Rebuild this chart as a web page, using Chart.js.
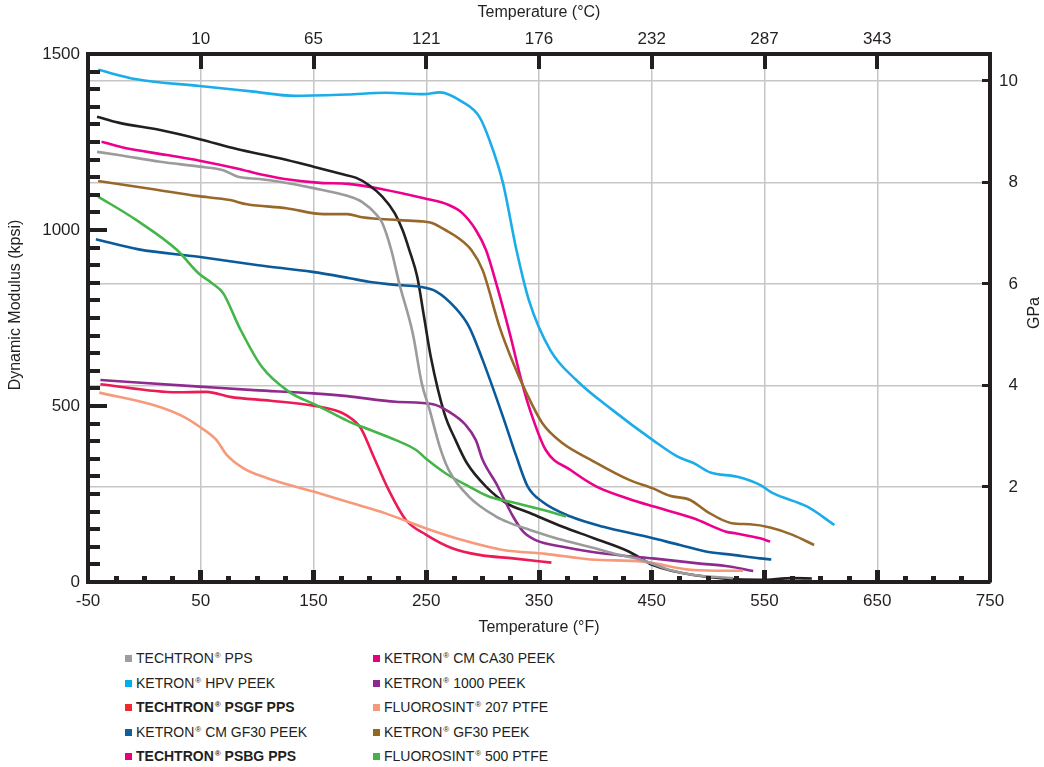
<!DOCTYPE html>
<html>
<head>
<meta charset="utf-8">
<script src="https://cdn.jsdelivr.net/npm/chart.js@4.4.1/dist/chart.umd.min.js"></script>
<style>
  body { margin: 0; background: #fff; font-family: "Liberation Sans", Arial, Helvetica, sans-serif; }
  #wrap { position: relative; width: 1044px; height: 767px; overflow: hidden; }
  #chart { position: absolute; left: 0; top: 0; }
  .legend { position: absolute; top: 646px; font-size: 14px; color: #231f20; }
  .legend div { height: 24.5px; line-height: 24.5px; white-space: nowrap; }
  .legend i { display: inline-block; width: 7px; height: 7px; margin-right: 4px; vertical-align: 1px; }
  .legend b { font-weight: bold; }
  .legend sup { font-size: 8px; line-height: 0; vertical-align: 5px; margin-left: 1px; }
</style>
</head>
<body>
<div id="wrap">
  <canvas id="chart" width="1044" height="640"></canvas>
  <div class="legend" id="legendLeft" style="left:125px"></div>
  <div class="legend" id="legendRight" style="left:373px"></div>
</div>
<script>
// temperatures in °F, modulus in kpsi
const techtronPpsF = [-42, -23, 14, 49, 70, 83, 102, 120, 150, 180, 193, 206, 211, 219, 226, 238, 246, 253, 262, 270, 288, 312, 324, 342, 371, 398, 420, 442, 466, 487, 522];
const techtronPpsK = [1222, 1213, 1194, 1180, 1170, 1151, 1145, 1137, 1119, 1097, 1080, 1043, 1020, 943, 849, 707, 565, 489, 384, 318, 242, 186, 168, 148, 119, 97, 78, 62, 34, 20, 11];

const hpvPeekF = [-41, -7, 49, 97, 133, 180, 214, 248, 262, 282, 297, 306, 318, 330, 341, 360, 383, 415, 451, 473, 487, 502, 526, 546, 557, 588, 612];
const hpvPeekK = [1455, 1428, 1409, 1393, 1381, 1385, 1390, 1386, 1391, 1364, 1322, 1256, 1134, 943, 801, 659, 574, 489, 403, 356, 338, 311, 299, 276, 253, 214, 162];

const psgfPpsF = [-39, 29, 55, 76, 112, 150, 168, 179, 192, 202, 216, 232, 250, 273, 297, 327, 361];
const psgfPpsK = [562, 539, 540, 526, 515, 501, 489, 474, 437, 366, 266, 176, 134, 96, 77, 67, 55];

const cmGf30PeekF = [-43, -5, 48, 101, 149, 182, 199, 223, 244, 259, 276, 288, 300, 318, 330, 340, 353, 378, 407, 445, 475, 499, 522, 546, 556];
const cmGf30PeekK = [974, 945, 924, 900, 881, 863, 853, 844, 839, 825, 778, 725, 631, 470, 356, 271, 228, 186, 157, 129, 105, 86, 77, 67, 64];

const psbgPpsF = [-42, -23, 14, 49, 82, 120, 150, 175, 188, 199, 211, 222, 229, 235, 242, 248, 254, 266, 276, 286, 303, 321, 342, 371, 398, 430, 440, 451, 487, 546, 575, 592];
const psbgPpsK = [1322, 1305, 1284, 1258, 1230, 1204, 1180, 1159, 1148, 1128, 1095, 1048, 1000, 943, 867, 754, 640, 480, 403, 338, 271, 224, 196, 157, 125, 86, 68, 48, 20, 6, 11, 10];

const cmCa30PeekF = [-38, -20, 20, 49, 82, 106, 126, 156, 181, 211, 248, 270, 282, 294, 303, 312, 324, 335, 342, 356, 378, 401, 430, 451, 487, 516, 525, 546, 555];
const cmCa30PeekK = [1251, 1235, 1213, 1197, 1175, 1156, 1144, 1134, 1131, 1116, 1090, 1071, 1048, 1000, 943, 849, 707, 565, 489, 375, 318, 271, 236, 215, 181, 143, 138, 124, 115];

const ketron1000F = [-39, 49, 97, 150, 180, 223, 256, 270, 285, 294, 300, 312, 318, 327, 336, 347, 371, 396, 427, 451, 491, 519, 540];
const ketron1000K = [574, 555, 545, 536, 528, 512, 505, 484, 446, 403, 347, 280, 242, 186, 143, 119, 100, 86, 74, 67, 53, 44, 31];

const fluoro207F = [-40, 8, 32, 49, 64, 73, 88, 109, 150, 180, 214, 250, 282, 318, 356, 396, 442, 487, 516, 531];
const fluoro207K = [538, 503, 474, 441, 403, 361, 323, 295, 257, 228, 195, 152, 119, 91, 80, 64, 58, 34, 32, 32];

const gf30PeekF = [-41, 8, 46, 76, 91, 126, 159, 180, 193, 226, 248, 255, 267, 279, 290, 300, 315, 326, 339, 353, 371, 396, 430, 451, 466, 484, 499, 521, 537, 555, 575, 594];
const gf30PeekK = [1139, 1116, 1097, 1085, 1073, 1062, 1045, 1045, 1036, 1028, 1024, 1020, 1000, 976, 943, 886, 725, 631, 536, 451, 394, 347, 290, 266, 245, 233, 200, 167, 164, 155, 134, 105];

const fluoro500F = [-41, -7, 29, 48, 60, 70, 84, 104, 128, 152, 164, 182, 193, 223, 241, 251, 267, 288, 306, 330, 353, 374];
const fluoro500K = [1095, 1028, 943, 877, 849, 820, 725, 612, 541, 503, 484, 455, 441, 403, 375, 347, 309, 271, 242, 224, 205, 186];

// axis ticks
const fahrenheitTicks = [-50, 50, 150, 250, 350, 450, 550, 650, 750];
const celsiusTickPos = [50, 150, 250, 350, 450, 550, 650];
const celsiusLabels = ['10', '65', '121', '176', '232', '287', '343'];
const kpsiTicks = [0, 500, 1000, 1500];
const gpaTicks = [2, 4, 6, 8, 10];

// legend
const legendLeftNames = ['TECHTRON® PPS', 'KETRON® HPV PEEK', 'TECHTRON® PSGF PPS', 'KETRON® CM GF30 PEEK', 'TECHTRON® PSBG PPS'];
const legendLeftColors = ['#9d9ea0', '#00aeef', '#ee2a30', '#0f5f9f', '#e6007e'];
const legendLeftBold = [false, false, true, false, true];
const legendRightNames = ['KETRON® CM CA30 PEEK', 'KETRON® 1000 PEEK', 'FLUOROSINT® 207 PTFE', 'KETRON® GF30 PEEK', 'FLUOROSINT® 500 PTFE'];
const legendRightColors = ['#e6007e', '#8e278f', '#f5997b', '#93681f', '#3fb549'];

const ink = '#231f20';
Chart.defaults.font.family = '"Liberation Sans", Arial, Helvetica, sans-serif';
Chart.defaults.color = ink;

function toPoints(fs, ks) {
    return fs.map((f, i) => ({ x: f, y: ks[i] }));
}

function series(label, fs, ks, color) {
    return {
        label: label,
        data: toPoints(fs, ks),
        borderColor: color,
        borderWidth: 2.6,
        pointRadius: 0,
        fill: false,
        cubicInterpolationMode: 'monotone'
    };
}

function fillLegend(el, names, colors, bold) {
    el.innerHTML = names.map((n, i) => {
        const text = n.replace('®', '<sup>®</sup>');
        const body = bold && bold[i] ? `<b>${text}</b>` : text;
        return `<div><i style="background:${colors[i]}"></i>${body}</div>`;
    }).join('');
}

fillLegend(document.getElementById('legendLeft'), legendLeftNames, legendLeftColors, legendLeftBold);
fillLegend(document.getElementById('legendRight'), legendRightNames, legendRightColors, null);

// inward tick marks and the rotated side titles
const frameTicks = {
    id: 'frameTicks',
    afterDraw(chart) {
        const { ctx, chartArea: a, scales } = chart;
        ctx.save();
        ctx.fillStyle = ink;
        // bottom: every 25 °F
        for (let v = -25; v < 750; v += 25) {
            const px = scales.x.getPixelForValue(v);
            const major = (v - 50) % 100 === 0;
            const h = major ? 12 : 6;
            ctx.fillRect(Math.round(px - 2.5), a.bottom - h, 5, h);
        }
        // left: every 50 kpsi
        for (let v = 50; v < 1500; v += 50) {
            const py = scales.y.getPixelForValue(v);
            const w = v % 500 === 0 ? 19 : 12;
            ctx.fillRect(a.left, Math.round(py - 2), w, 4);
        }
        // top: °C ticks
        celsiusTickPos.forEach(v => {
            const px = scales.xTop.getPixelForValue(v);
            ctx.fillRect(Math.round(px - 2), a.top, 4, 15);
        });
        // right: GPa ticks
        gpaTicks.forEach(v => {
            const py = scales.y2.getPixelForValue(v);
            ctx.fillRect(a.right - 8, Math.round(py - 1.5), 8, 3);
        });
        ctx.font = '16px "Liberation Sans", Arial, sans-serif';
        ctx.textAlign = 'center';
        ctx.textBaseline = 'middle';
        ctx.translate(16, 305);
        ctx.rotate(-Math.PI / 2);
        ctx.fillText('Dynamic Modulus (kpsi)', 0, 0);
        ctx.setTransform(1, 0, 0, 1, 0, 0);
        ctx.translate(1035, 313);
        ctx.rotate(-Math.PI / 2);
        ctx.fillText('GPa', 0, 0);
        ctx.restore();
    }
};

const tickFont = { size: 17 };
const frame = { display: true, color: ink, width: 4 };

new Chart(document.getElementById('chart'), {
    type: 'line',
    data: {
        datasets: [
            series('TECHTRON PPS', techtronPpsF, techtronPpsK, '#9b9b9b'),
            series('KETRON GF30 PEEK', gf30PeekF, gf30PeekK, '#98682a'),
            series('FLUOROSINT 500 PTFE', fluoro500F, fluoro500K, '#44b549'),
            series('FLUOROSINT 207 PTFE', fluoro207F, fluoro207K, '#f7997a'),
            series('KETRON 1000 PEEK', ketron1000F, ketron1000K, '#8f2a8f'),
            series('TECHTRON PSGF PPS', psgfPpsF, psgfPpsK, '#ec1a55'),
            series('KETRON CM GF30 PEEK', cmGf30PeekF, cmGf30PeekK, '#0b5b9b'),
            series('TECHTRON PSBG PPS', psbgPpsF, psbgPpsK, ink),
            series('KETRON CM CA30 PEEK', cmCa30PeekF, cmCa30PeekK, '#ec008c'),
            series('KETRON HPV PEEK', hpvPeekF, hpvPeekK, '#1badea')
        ]
    },
    options: {
        responsive: false,
        animation: false,
        devicePixelRatio: 1,
        layout: { padding: { left: 0, right: 26, top: 0, bottom: 0 } },
        plugins: { legend: { display: false }, tooltip: { enabled: false } },
        scales: {
            x: {
                type: 'linear', position: 'bottom', min: -50, max: 750,
                afterBuildTicks: s => { s.ticks = fahrenheitTicks.map(v => ({ value: v })); },
                afterFit: s => { s.height = 58; },
                grid: {
                    color: c => (c.tick && (c.tick.value === -50 || c.tick.value === 750)) ? 'rgba(0,0,0,0)' : '#c6c6c6',
                    lineWidth: 1.5, drawTicks: false
                },
                border: frame,
                ticks: { font: tickFont, color: ink, padding: 9, maxRotation: 0, autoSkip: false,
                    callback: v => String(v) },
                title: { display: true, text: 'Temperature (°F)', font: { size: 16 }, color: ink, padding: { top: 0, bottom: 3 } }
            },
            xTop: {
                type: 'linear', position: 'top', min: -50, max: 750,
                afterBuildTicks: s => { s.ticks = celsiusTickPos.map(v => ({ value: v })); },
                afterFit: s => { s.height = 54; },
                grid: { display: false, drawTicks: false },
                border: frame,
                ticks: { font: tickFont, color: ink, padding: 4, maxRotation: 0, autoSkip: false,
                    callback: (v, i) => celsiusLabels[i] },
                title: { display: true, text: 'Temperature (°C)', font: { size: 16 }, color: ink, padding: { top: 3, bottom: 0 } }
            },
            y: {
                type: 'linear', position: 'left', min: 0, max: 1500,
                afterBuildTicks: s => { s.ticks = kpsiTicks.map(v => ({ value: v })); },
                afterFit: s => { s.width = 88; },
                grid: { display: false, drawTicks: false },
                border: frame,
                ticks: { font: tickFont, color: ink, padding: 8, callback: v => String(v) }
            },
            y2: {
                type: 'linear', position: 'right', min: 0.128, max: 10.53,
                afterBuildTicks: s => { s.ticks = gpaTicks.map(v => ({ value: v })); },
                afterFit: s => { s.width = 28; },
                grid: { color: '#c6c6c6', lineWidth: 1.5, drawTicks: false },
                border: frame,
                ticks: { font: tickFont, color: ink, crossAlign: 'far', callback: v => String(v) }
            }
        }
    },
    plugins: [frameTicks]
});
</script>
</body>
</html>
